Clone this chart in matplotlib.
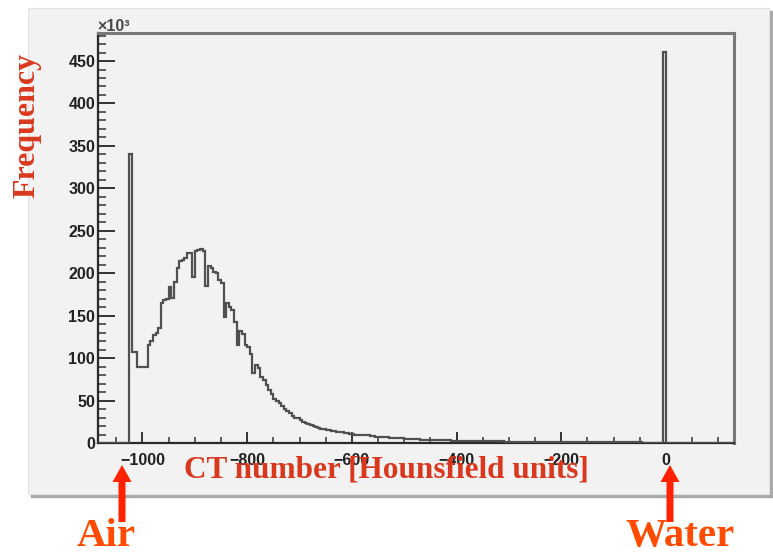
"""CT number histogram of a phantom scan, with the air and water peaks marked."""

import matplotlib.pyplot as plt
import matplotlib.ticker as mticker
import numpy as np
from matplotlib.patches import FancyArrow, Rectangle

# Histogram binning (Hounsfield units)
X_START = -1085
BIN_WIDTH = 5
X_RANGE = (-1085, 130)
Y_RANGE = (0, 483)

# Counts per bin, in units of 10^3, one line per 50 HU starting at -1085
COUNTS = [
    0, 0, 0, 0, 0, 0, 0, 0, 0, 0,
    0, 0, 341, 107, 107, 90, 90, 90, 90, 115,
    120, 127, 130, 136, 165, 169, 170, 184, 171, 190,
    206, 214, 216, 218, 224, 224, 195, 226, 227, 228,
    226, 185, 208, 206, 202, 200, 192, 189, 149, 165,
    160, 157, 143, 115, 132, 128, 115, 113, 105, 83,
    92, 88, 78, 74, 68, 62, 58, 52, 50, 47,
    43, 40, 38, 35, 32, 30, 29, 27, 25, 24,
    22, 21, 20, 19, 18, 17, 16, 15.5, 15, 14.5,
    14, 13.5, 13, 12.5, 12, 11.5, 11, 10.5, 10, 10,
    9.5, 9.5, 9, 9, 8.5, 8, 7.5, 7, 7, 6.8,
    6.6, 6.4, 6.2, 6, 6, 5.8, 5.5, 5.2, 5, 4.8,
    4.6, 4.4, 4.2, 4, 3.9, 3.8, 3.7, 3.6, 3.5, 3.4,
    3.3, 3.2, 3.1, 3.0, 3.0, 2.9, 2.8, 2.7, 2.6, 2.5,
    2.5, 2.4, 2.3, 2.3, 2.2, 2.2, 2.1, 2.1, 2.0, 2.0,
    1.9, 1.9, 1.8, 1.8, 1.8, 1.7, 1.7, 1.6, 1.6, 1.6,
    1.5, 1.5, 1.5, 1.4, 1.4, 1.4, 1.3, 1.3, 1.3, 1.2,
    1.2, 1.2, 1.1, 1.1, 1.1, 1.0, 1.0, 1.0, 1.0, 0.9,
    0.9, 0.9, 0.9, 0.9, 0.8, 0.8, 0.8, 0.8, 0.8, 0.8,
    0.7, 0.7, 0.7, 0.7, 0.7, 0.7, 0.7, 0.7, 0.7, 0.7,
    0.7, 0.7, 0.6, 0.6, 0.6, 0.6, 0.6, 0.6, 0.5, 0.5,
    0.5, 0.5, 0.5, 0.5, 0.5, 0.5, 461, 0, 0, 0,
    0, 0, 0, 0, 0, 0, 0, 0, 0, 0,
    0, 0, 0, 0, 0, 0, 0, 0, 0, 0,
    0, 0, 0,
]

X_TICKS = [-1000, -800, -600, -400, -200, 0]
Y_TICKS = [0, 50, 100, 150, 200, 250, 300, 350, 400, 450]

LABEL_RED = "#d9381e"
NOTE_ORANGE = "#ff4b00"
ARROW_RED = "#ff2200"
PANEL_GRAY = "#f2f2f2"

W, H = 773, 554
DPI = 100


def px(x, y):
    """Figure fraction from pixel position measured from the top-left corner."""
    return x / W, 1 - y / H


def draw_panel(fig):
    # canvas pad with a drop shadow on the right and bottom
    x0, y0 = px(28, 494)
    x1, y1 = px(769, 8)
    sx, sy = 3 / W, 3 / H
    fig.patches.append(Rectangle((x0 + sx, y0 - sy), x1 - x0, y1 - y0,
                                 transform=fig.transFigure, color="#a8a8a8", zorder=-3))
    fig.patches.append(Rectangle((x0, y0), x1 - x0, y1 - y0,
                                 transform=fig.transFigure, facecolor=PANEL_GRAY,
                                 edgecolor="#e2e2e2", lw=0.8, zorder=-2))


def draw_arrow(fig, x, tip_y, tail_y):
    # vertical arrow pointing up, positions in pixels from the top-left
    tx, ty = x / DPI, (H - tail_y) / DPI
    length = (tail_y - tip_y) / DPI
    arrow = FancyArrow(tx, ty, 0, length, width=0.07, head_width=0.19,
                       head_length=0.17, length_includes_head=True,
                       transform=fig.dpi_scale_trans, color=ARROW_RED, lw=0)
    fig.add_artist(arrow)


def main():
    fig = plt.figure(figsize=(W / DPI, H / DPI), dpi=DPI, facecolor="white")
    draw_panel(fig)

    left, bottom = px(98, 443)
    right, top = px(734, 33)
    ax = fig.add_axes([left, bottom, right - left, top - bottom])
    ax.set_zorder(1)
    ax.set_facecolor(PANEL_GRAY)

    counts = np.array(COUNTS, dtype=float)
    edges = X_START + BIN_WIDTH * np.arange(len(counts) + 1)
    ax.stairs(counts, edges, color="#505050", lw=1.6, zorder=3)

    ax.set_xlim(*X_RANGE)
    ax.set_ylim(*Y_RANGE)

    ax.xaxis.set_major_locator(mticker.FixedLocator(X_TICKS))
    ax.xaxis.set_minor_locator(mticker.MultipleLocator(50))
    ax.yaxis.set_major_locator(mticker.FixedLocator(Y_TICKS))
    ax.yaxis.set_minor_locator(mticker.MultipleLocator(10))

    ax.tick_params(axis="both", which="both", direction="in", color="#333333",
                   labelcolor="#222222", top=False, right=False)
    ax.tick_params(axis="y", which="major", length=12, width=1.4, pad=2)
    ax.tick_params(axis="y", which="minor", length=6, width=1.1)
    ax.tick_params(axis="x", which="major", length=8, width=1.4, pad=7)
    ax.tick_params(axis="x", which="minor", length=4, width=1.1)
    for lab in ax.get_xticklabels() + ax.get_yticklabels():
        lab.set_fontfamily("Liberation Sans")
        lab.set_fontweight("bold")
        lab.set_fontsize(11.5)

    for side in ("left", "bottom"):
        ax.spines[side].set_color("#2a2a2a")
        ax.spines[side].set_linewidth(1.6)
    for side in ("top", "right"):
        ax.spines[side].set_color("#7a7a7a")
        ax.spines[side].set_linewidth(2.2)

    # exponent of the y axis
    fig.text(*px(97, 31), "×10³", fontsize=11.5, fontweight="bold",
             family="Liberation Sans", color="#4a4a4a", ha="left", va="baseline")

    fig.text(*px(27, 125), "Frequency", rotation=90, fontsize=23,
             fontweight="bold", family="Liberation Serif", color=LABEL_RED,
             ha="center", va="center")
    fig.text(*px(386, 478), "CT number [Hounsfield units]", fontsize=22.5,
             fontweight="bold", family="Liberation Serif", color=LABEL_RED,
             ha="center", va="baseline", zorder=5)

    draw_arrow(fig, 122, 465, 522)
    draw_arrow(fig, 670, 465, 522)

    fig.text(*px(106, 546), "Air", fontsize=29.5, fontweight="bold",
             family="Liberation Serif", color=NOTE_ORANGE, ha="center", va="baseline")
    fig.text(*px(680, 546), "Water", fontsize=29.5, fontweight="bold",
             family="Liberation Serif", color=NOTE_ORANGE, ha="center", va="baseline")

    fig.savefig("out.png", dpi=DPI, facecolor="white")
    plt.close(fig)


if __name__ == "__main__":
    main()
